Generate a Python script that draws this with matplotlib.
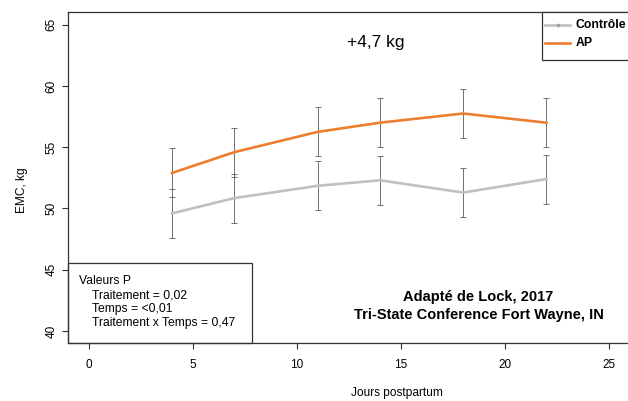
import matplotlib
matplotlib.use('Agg')
import matplotlib.pyplot as plt

plt.rcParams['font.family'] = ['Liberation Sans', 'DejaVu Sans']

# Données
jours = [4, 7, 11, 14, 18, 22]
emc_controle = [49.6, 50.85, 51.85, 52.3, 51.3, 52.4]
emc_ap = [52.9, 54.6, 56.25, 57.0, 57.75, 57.0]
se_controle = [2.0, 2.0, 2.0, 2.0, 2.0, 2.0]
se_ap = [2.0, 2.0, 2.0, 2.0, 2.0, 2.0]
xticks = [0, 5, 10, 15, 20, 25]
yticks = [40, 45, 50, 55, 60, 65]
series = ['Contrôle', 'AP']

gris = '#c0c0c0'
orange = '#ed7d31'
W, H = 628, 401


def fx(px):
    return px / W


def fy(py):
    return 1 - py / H


fig = plt.figure(figsize=(6.28, 4.01), dpi=100)
ax = fig.add_axes([fx(68), 57.7 / H, (650.4 - 68) / W, 330.9 / H])

ax.errorbar(jours, emc_controle, yerr=se_controle, fmt='none', ecolor='#707070',
            elinewidth=0.7, capsize=2, capthick=0.7, zorder=2)
ax.errorbar(jours, emc_ap, yerr=se_ap, fmt='none', ecolor='#707070',
            elinewidth=0.7, capsize=2, capthick=0.7, zorder=2)
ax.plot(jours, emc_controle, color=gris, lw=1.9, zorder=3)
ax.plot(jours, emc_ap, color=orange, lw=1.9, zorder=3)

ax.set_xlim(-1, 27)
ax.set_ylim(39, 66)
ax.set_xticks(xticks)
ax.set_yticks(yticks)
ax.tick_params(axis='both', labelsize=8.5, length=4, width=0.8, color='#333333')
ax.tick_params(axis='x', pad=7)
for lab in ax.get_yticklabels():
    lab.set_rotation(90)
    lab.set_va('center')
for s in ax.spines.values():
    s.set_linewidth(0.9)
    s.set_color('#333333')

fig.text(fx(22), fy(190), 'EMC, kg', rotation=90, ha='center', va='center', fontsize=8.6)
fig.text(fx(397), fy(393), 'Jours postpartum', ha='center', va='center', fontsize=8.6)

fig.text(fx(376), fy(42), '+4,7 kg', ha='center', va='center', fontsize=12.5)

fig.text(fx(478.5), fy(297), 'Adapté de Lock, 2017', ha='center', va='center',
         fontsize=10.5, fontweight='bold')
fig.text(fx(478.5), fy(314.5), 'Tri-State Conference Fort Wayne, IN', ha='center', va='center',
         fontsize=10.5, fontweight='bold')

# Encadré des valeurs P
rect = plt.Rectangle((fx(68), 57.7 / H), (252 - 68) / W, (343.3 - 262.7) / H,
                     transform=fig.transFigure, fill=False, edgecolor='#333333', lw=0.9, zorder=5)
fig.patches.append(rect)
fig.text(fx(79), fy(281), 'Valeurs P', ha='left', va='center', fontsize=8.7)
lignes_p = ['Traitement = 0,02', 'Temps = <0,01', 'Traitement x Temps = 0,47']
for i, t in enumerate(lignes_p):
    fig.text(fx(92), fy(295 + i * 13.8), t, ha='left', va='center', fontsize=8.7)

# Légende (coupée par le bord droit comme dans l'original)
cadre = plt.Rectangle((fx(541.7), fy(60)), (660 - 541.7) / W, (60 - 12.3) / H,
                      transform=fig.transFigure, facecolor='white', edgecolor='#333333',
                      lw=0.9, zorder=6)
fig.patches.append(cadre)
for i, (nom, coul) in enumerate(zip(series, [gris, orange])):
    y = fy(25 + i * 17.5)
    fig.lines.append(plt.Line2D([fx(545), fx(570)], [y, y], transform=fig.transFigure,
                                color=coul, lw=1.9, zorder=7))
    fig.text(fx(575.5), y, nom, ha='left', va='center', fontsize=8.8, fontweight='bold', zorder=7)
fig.lines.append(plt.Line2D([fx(557.5)], [fy(25)], transform=fig.transFigure, marker='s',
                            markersize=2, color='#a0a0a0', zorder=8))

fig.savefig('out.png', dpi=100)
